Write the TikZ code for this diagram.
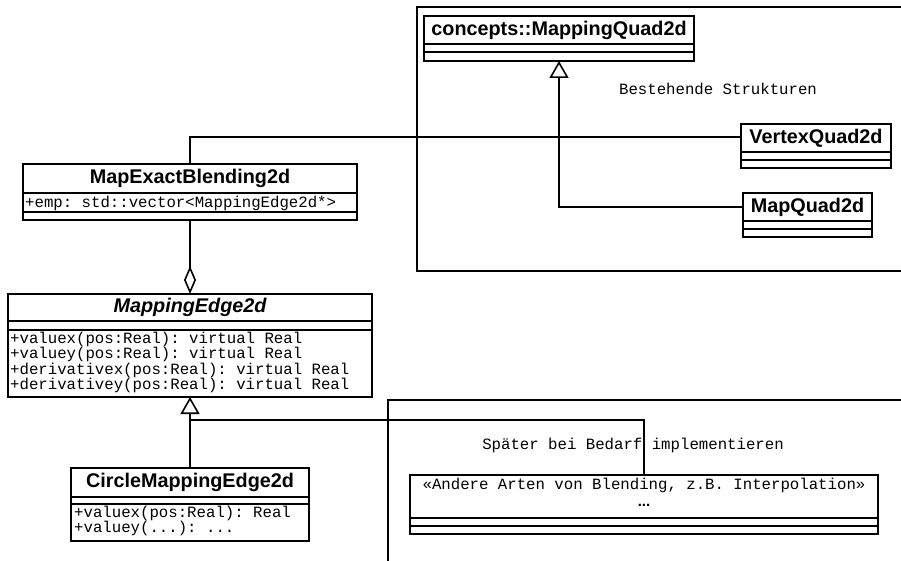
\documentclass[tikz,border=0pt]{standalone}
\usepackage{fontspec}
\setmainfont{Liberation Sans}
\newfontfamily\monofont{Liberation Mono}
\usetikzlibrary{arrows.meta}
\frenchspacing
\tikzset{
  x=1pt, y=-1pt,
  umlline/.style={line width=1.6pt},
  box/.style={draw, line width=1.6pt, anchor=north west, inner sep=0pt, outer sep=0pt},
  cname/.style={font=\fontsize{19.8}{21}\selectfont\bfseries, inner sep=0pt},
  cmono/.style={font=\fontsize{15.7}{15.3}\selectfont\monofont, inner sep=0pt, align=left},
  frame/.style={line width=1.6pt},
  gen/.style={-{Triangle[open,length=17pt,width=19pt,line width=1.6pt]}, umlline},
  agg/.style={-{Diamond[open,length=28pt,width=12pt,line width=1.6pt]}, umlline},
}
\newcommand{\umlbox}[7]{%
  % #1 name, #2 x1, #3 y1, #4 x2, #5 y2, #6 line1, #7 line2
  \node[box, minimum width={(#4-#2)*1pt}, minimum height={(#5-#3)*1pt}] (#1) at (#2,#3) {};
  \draw[umlline] (#2,#6) -- (#4,#6);
  \draw[umlline] (#2,#7) -- (#4,#7);
}
\begin{document}
\begin{tikzpicture}
\useasboundingbox (0,0) rectangle (901,561);
\clip (0,0) rectangle (901,561);
% package frames
\draw[frame] (1000,7) -- (417,7) -- (417,271) -- (1000,271);
\draw[frame] (1000,400) -- (388,400) -- (388,600);
\node[cmono] (bs) at (718,89) {Bestehende Strukturen};
\node[cmono] (sp) at (633,445) {Später bei Bedarf implementieren};
% classes
\umlbox{mq}{424}{16}{694}{61}{44}{52}
\node[cname] (mqn) at (559,30) {concepts::MappingQuad2d};
\umlbox{vq}{741}{124}{891}{168}{152}{160}
\node[cname] (vqn) at (816,138) {VertexQuad2d};
\umlbox{mpq}{743}{193}{872}{237}{221}{229}
\node[cname] (mpqn) at (807.5,207) {MapQuad2d};
\umlbox{meb}{23}{164}{357}{220}{193}{212}
\node[cname] (mebn) at (190,178.5) {MapExactBlending2d};
\node[cmono, anchor=west] (meba) at (25,203) {+emp: std::vector<MappingEdge2d*>};
\umlbox{me}{8}{294}{372}{397}{321}{330}
\node[cname, font=\fontsize{19.8}{21}\selectfont\bfseries\itshape] (men) at (190,307.5) {MappingEdge2d};
\node[cmono, anchor=north west] (mem) at (10,332) {+valuex(pos:Real): virtual Real\\+valuey(pos:Real): virtual Real\\+derivativex(pos:Real): virtual Real\\+derivativey(pos:Real): virtual Real};
\umlbox{cme}{71}{468}{309}{541}{497}{504}
\node[cname] (cmen) at (190,482.5) {CircleMappingEdge2d};
\node[cmono, anchor=north west] (cmem) at (74,506) {+valuex(pos:Real): Real\\+valuey(...): ...};
\umlbox{an}{410}{475}{878}{534}{518}{526}
\node[cmono] (ant) at (644,485) {«Andere Arten von Blending, z.B. Interpolation»};
\node[cname, font=\fontsize{15}{17}\selectfont\bfseries] (and) at (644,505) {...};
% connectors
\coordinate (c1) at (559,207);
\draw[gen] (mpq.west |- c1) -- (c1) -- (mq.south -| c1);
\coordinate (c2) at (190,137);
\draw[umlline] (meb.north -| c2) -- (c2) -- (vq.west |- c2);
\draw[agg] (meb.south -| c2) -- (me.north -| c2);
\draw[gen] (cme.north -| c2) -- (me.south -| c2);
\coordinate (c3) at (644,420);
\coordinate (c4) at (190,420);
\draw[umlline] (an.north -| c3) -- (c3) -- (c4);
\end{tikzpicture}
\end{document}
